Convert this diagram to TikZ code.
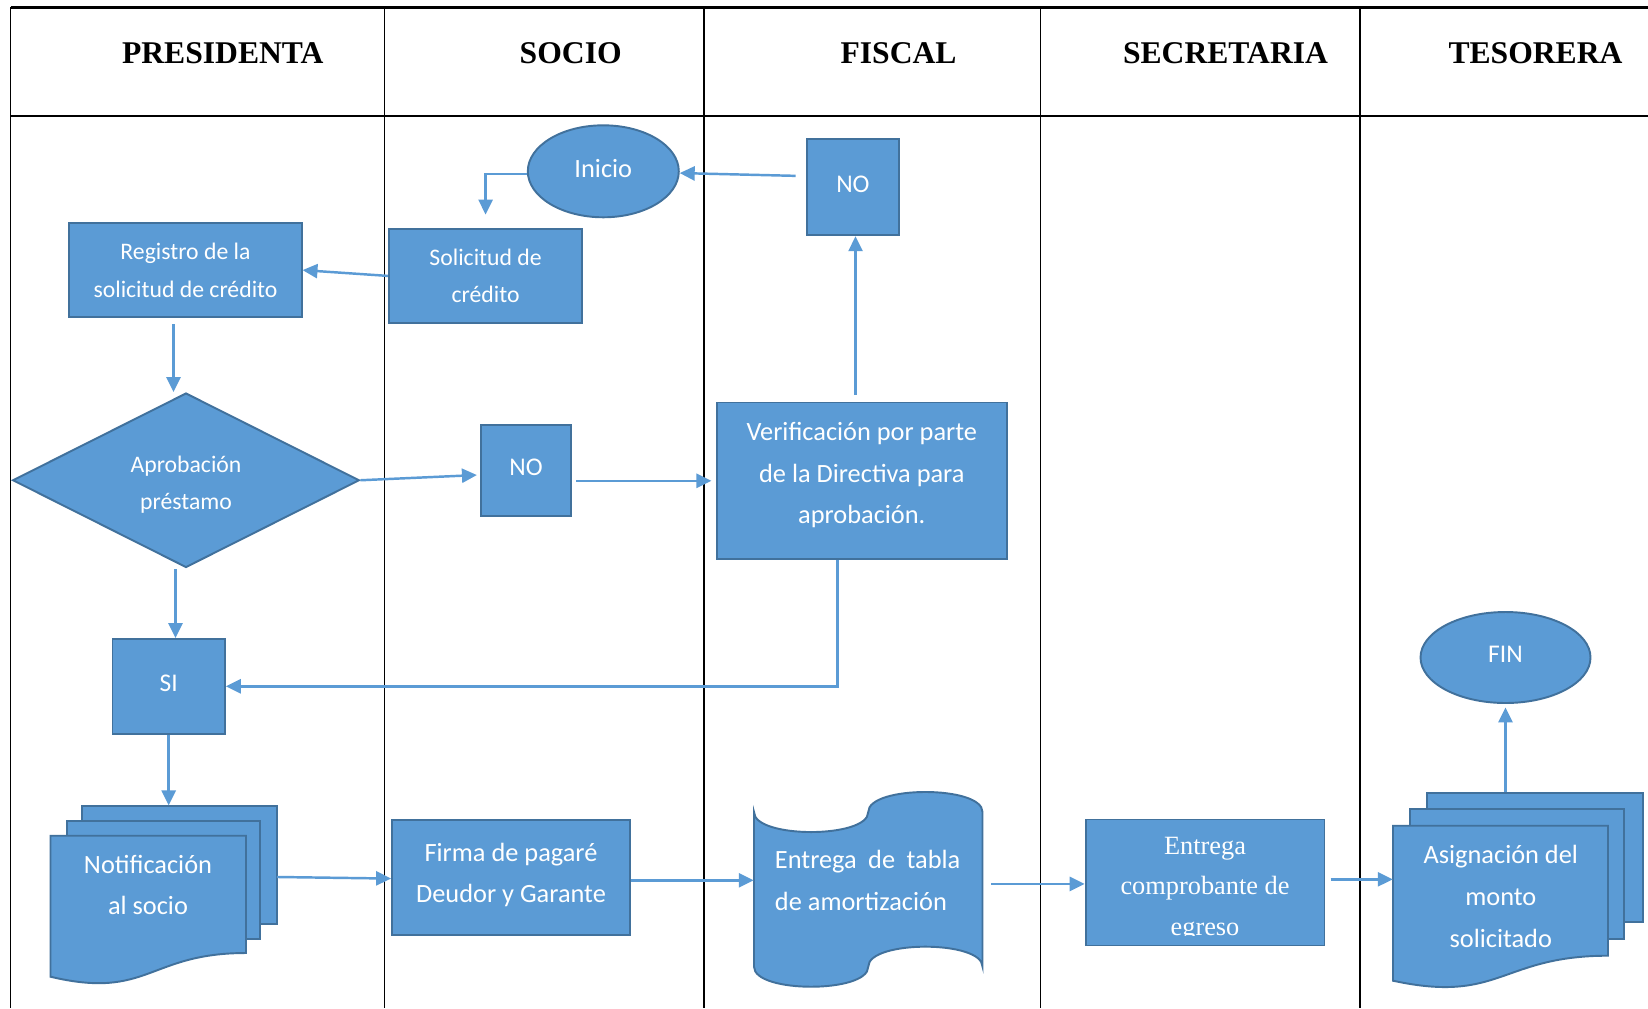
\documentclass[tikz,border=0pt]{standalone}
\usepackage{fontspec}
\setmainfont{Carlito}
\newfontfamily\timesfam{Liberation Serif}
\usetikzlibrary{arrows.meta,shapes.geometric,calc}
\definecolor{boxfill}{HTML}{5B9BD5}
\definecolor{boxline}{HTML}{41719C}
\definecolor{flowline}{HTML}{5B9BD5}
\begin{document}
\begin{tikzpicture}[x=0.02cm, y=-0.02cm,
  shapebase/.style={fill=boxfill, draw=boxline, line width=1.1pt, text=white, inner sep=0pt, align=center},
  procbox/.style={shapebase, rectangle},
  smalltxt/.style={font=\fontsize{13.5}{21.5}\selectfont},
  bigtxt/.style={font=\fontsize{15}{23.8}\selectfont},
  shorttxt/.style={font=\fontsize{14.5}{20}\selectfont, text depth=3.6pt},
  conn/.style={draw=flowline, line width=1.4pt, -{Triangle[length=8.5pt,width=8pt]}},
  laneline/.style={draw=black, line width=0.9pt},
  headline/.style={draw=black, line width=1.3pt},
  lanehead/.style={font=\timesfam\bfseries\fontsize{18}{22}\selectfont, inner sep=0pt},
  docarea/.style={rectangle, inner sep=0pt, draw=none},
  docshape/.style={fill=boxfill, draw=boxline, line width=1.1pt},
  wtext/.style={text=white, inner sep=0pt, align=center}
]
\useasboundingbox (0,0) rectangle (1648,1008);
\fill[white] (0,0) rectangle (1648,1008);

% swimlane table
\draw[headline] (10.5,7.4) -- (1648,7.4);
\draw[headline] (10.5,116) -- (1648,116);
\foreach \lx in {10.5,384.7,704.2,1040.5,1360}
  \draw[laneline] (\lx,7.4) -- (\lx,1008);

\node[lanehead] (hpres)   at (222.8,53)  {PRESIDENTA};
\node[lanehead] (hsocio)  at (570.7,53)  {SOCIO};
\node[lanehead] (hfiscal) at (898.6,53)  {FISCAL};
\node[lanehead] (hsecre)  at (1225.5,53) {SECRETARIA};
\node[lanehead] (hteso)   at (1535.5,53) {TESORERA};

% terminals
\node[shapebase, ellipse, bigtxt, text depth=3.6pt, minimum width=3.02cm, minimum height=1.84cm] (inicio) at (603.3,171.3) {Inicio};
\node[shapebase, ellipse, shorttxt, minimum width=3.4cm, minimum height=1.82cm] (fin) at (1505.5,657.5) {FIN};

% process boxes
\node[procbox, shorttxt, minimum width=1.828cm, minimum height=1.934cm] (no1) at (852.9,187) {NO};
\node[procbox, smalltxt, minimum width=3.868cm, minimum height=1.872cm] (sol) at (485.6,275.9) {Solicitud de\\crédito};
\node[procbox, smalltxt, minimum width=4.644cm, minimum height=1.892cm] (reg) at (185.5,270.1) {Registro de la\\solicitud de crédito};
\node[shapebase, diamond, minimum width=6.936cm, minimum height=3.49cm] (dia) at (186,480.25) {};
\node[wtext, smalltxt] (diatext) at (186,484.6) {Aprobación\\préstamo};
\node[procbox, shorttxt, minimum width=1.786cm, minimum height=1.828cm] (no2) at (526,470.3) {NO};
\node[procbox, minimum width=5.802cm, minimum height=3.132cm] (ver) at (861.8,480.8) {};
\node[wtext, bigtxt] (vertext) at (861.8,475) {Verificación por parte\\de la Directiva para\\aprobación.};
\node[procbox, shorttxt, minimum width=2.248cm, minimum height=1.892cm] (si) at (168.7,686.3) {SI};
\node[procbox, minimum width=4.76cm, minimum height=2.3cm] (firma) at (511,877.5) {};
\node[wtext, bigtxt] (firmatext) at (511,875) {Firma de pagaré\\Deudor y Garante};
\node[procbox, minimum width=4.78cm, minimum height=2.52cm] (comp) at (1205,882.5) {};
\begin{scope}
  \clip (comp.north west) rectangle ($(comp.south east)+(0,-10.5)$);
  \node[wtext, font=\timesfam\fontsize{15}{23.2}\selectfont] (comptext) at (1205,889) {Entrega\\comprobante de\\egreso};
\end{scope}

% multidocument: notification
\node[docarea, minimum width=4.522cm, minimum height=3.526cm] (notif) at (163.55,893.85) {};
\filldraw[docshape] (81.7,805.7) rectangle (276.6,924.3);
\filldraw[docshape] (67,820.7) rectangle (260,939.3);
\filldraw[docshape] (50.5,835.7) -- (246,835.7) -- (246,953)
  .. controls (148.25,953) and (148.25,1000) .. (50.5,976.7) -- cycle;
\node[wtext, bigtxt] (notiftext) at (148,885) {Notificación\\al socio};

% punched tape: amortization table
\node[docarea, minimum width=4.57cm, minimum height=3.9cm] (tabla) at (868.25,889.2) {};
\filldraw[docshape] (754,812)
  .. controls (754,838.7) and (868.25,838.7) .. (868.25,812)
  .. controls (868.25,785.3) and (982.5,785.3) .. (982.5,812)
  -- (982.5,966.7)
  .. controls (982.5,940) and (868.25,940) .. (868.25,966.7)
  .. controls (868.25,993.4) and (754,993.4) .. (754,966.7) -- cycle;
\node[wtext, bigtxt, anchor=west, align=left] (tablatext) at (774.6,880.3)
  {\hbox to 105.5pt{Entrega\hfill de\hfill tabla}\\de amortización};

% multidocument: assigned amount
\node[docarea, minimum width=5cm, minimum height=3.886cm] (asig) at (1518,889.85) {};
\filldraw[docshape] (1427,792.7) rectangle (1643,921.7);
\filldraw[docshape] (1410,808.7) rectangle (1624.4,939);
\filldraw[docshape] (1393,825.7) -- (1608,825.7) -- (1608,955.7)
  .. controls (1500.5,955.7) and (1500.5,1004) .. (1393,980.7) -- cycle;
\node[wtext, bigtxt] (asigtext) at (1500.8,896.5) {Asignación del\\monto\\solicitado};

% connectors
\draw[conn, shorten <=6pt] ([yshift=6.2pt]no1.west) -- ([yshift=-1pt]inicio.east);
\draw[conn] ([yshift=-1.5pt]inicio.west) -| ([yshift=7.7pt]sol.north);
\draw[conn] (sol.west) -- (reg.east);
\coordinate (regout) at ($(reg.south)+(-12,6)$);
\draw[conn] (regout) -- (regout |- dia.north);
\draw[conn, shorten >=2pt] (dia.east) -- ([yshift=-2.6pt]no2.west);
\draw[conn, shorten <=2.5pt, shorten >=2.5pt] (no2.east |- ver.west) -- (ver.west);
\coordinate (verup) at ($(ver.north)+(-6.3,-7)$);
\draw[conn] (verup) -- (verup |- no1.south);
\coordinate (verout) at ($(ver.south)+(-24.2,0)$);
\draw[conn] (verout) |- (si.east);
\coordinate (diaout) at ($(dia.south)+(-10.5,1)$);
\draw[conn] (diaout) -- (diaout |- si.north);
\draw[conn] (si.south) -- (si.south |- notif.north);
\draw[conn] ([yshift=0.3pt]notif.east |- firma.west) -- ([yshift=-0.6pt]firma.west);
\draw[conn] ([yshift=-1.6pt]firma.east) -- ([yshift=-1.6pt]firma.east -| tabla.west);
\draw[conn, shorten <=4.8pt] ([yshift=-0.8pt]tabla.east |- comp.west) -- ([yshift=-0.8pt]comp.west);
\draw[conn, shorten <=3pt] ([yshift=1.8pt]comp.east) -- ([yshift=1.8pt]comp.east -| asig.west);
\draw[conn, shorten >=2pt] (fin.south |- asig.north) -- (fin.south);
\end{tikzpicture}
\end{document}
